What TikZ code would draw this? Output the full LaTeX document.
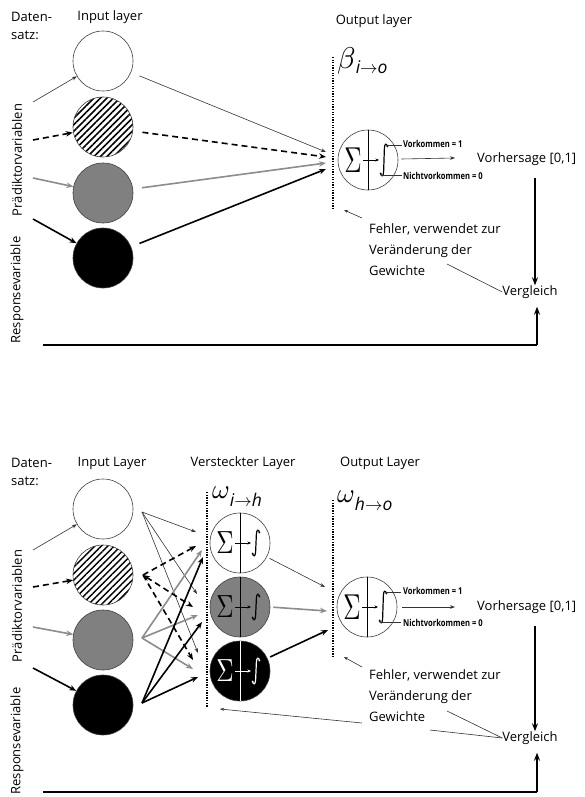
\documentclass[tikz,border=0pt]{standalone}
\usepackage{fontspec}
\setmainfont{Open Sans}
\usepackage{graphicx}
\usetikzlibrary{arrows.meta,patterns.meta,calc}

\tikzset{
  lbl/.style={font=\fontsize{13}{15}\selectfont, inner sep=0},
  tiny/.style={font=\fontsize{9.5}{11}\selectfont\bfseries, inner sep=0, anchor=west},
  neuron/.style={circle, draw=black!75, line width=0.6pt, minimum size=60pt, inner sep=0},
  hatch/.style={pattern={Lines[angle=45,distance=4.6pt,line width=1.5pt]}},
  thinarr/.style={draw=black!80, line width=0.6pt, -{Stealth[length=5pt,width=3.6pt]}},
  thickarr/.style={draw=black, line width=1.6pt, -{Stealth[length=7pt,width=5.5pt]}},
  grayarr/.style={draw=black!45, line width=1.6pt, -{Stealth[length=7pt,width=5.5pt]}},
  dasharr/.style={thickarr, dash pattern=on 6pt off 4pt},
  dotline/.style={line width=2.2pt, dash pattern=on 1.3pt off 1.3pt},
  bigline/.style={line width=2.2pt},
  bigarr/.style={line width=2.2pt, -{Stealth[length=8pt,width=6pt]}},
  note/.style={draw=black!80, line width=0.6pt},
  weight/.style={anchor=base west, inner sep=0},
}

% weight symbol with a large subscript
\newcommand{\wsym}[4]{\scalebox{#1}{$#2$}\raisebox{#4}{\scalebox{1.75}{$#3$}}}

% neuron with summation, activation and the vertical divider
% #1 name, #2 x, #3 y, #4 fill, #5 ink, #6 sigma y-scale, #7 half height of the integral
\newcommand{\cellneuron}[7]{%
  \node[neuron, fill=#4] (#1) at (#2,#3) {};
  \draw[draw=#5, line width=0.6pt] (#1.north) -- (#1.south);
  \node[text=#5, inner sep=0] (#1s) at ($(#1)+(-15,0)$) {\scalebox{2.4}[#6]{$\Sigma$}};
  \coordinate (#1i) at ($(#1)+(16,0)$);
  \coordinate (#1a) at ($(#1i)+(-5,0)$);
  \draw[draw=#5, line width=1.2pt, line cap=round]
    ($(#1i)+(3.4,-#7+2.5)$) .. controls ($(#1i)+(2.8,-#7-0.8)$) and ($(#1i)+(0.6,-#7-0.8)$) .. ($(#1i)+(0.4,-#7+4)$)
    -- ($(#1i)+(-0.4,#7-4)$) .. controls ($(#1i)+(-0.6,#7+0.8)$) and ($(#1i)+(-2.8,#7+0.8)$) .. ($(#1i)+(-3.4,#7-2.5)$);
  \fill[#5] ($(#1i)+(3.4,-#7+2.5)$) circle (0.9pt) ($(#1i)+(-3.4,#7-2.5)$) circle (0.9pt);
  \draw[draw=#5, line width=0.6pt, -{Stealth[length=3.5pt,width=3pt]}, shorten <=1.5pt] (#1s.east) -- (#1a);
}

\begin{document}
\begin{tikzpicture}[x=1pt,y=-1pt]
\useasboundingbox (0,0) rectangle (585,797);
\fill[white] (0,0) rectangle (585,797);

%================ single-layer network ================
\node[lbl, align=left, anchor=west, font=\fontsize{13}{18}\selectfont] (ds1) at (11,26) {Daten-\\satz:};
\node[lbl] (il1) at (110,17) {Input layer};
\node[lbl] (ol1) at (374,21) {Output layer};

\node[lbl, rotate=90] (pv1) at (17,160) {Prädiktorvariablen};
\node[lbl, rotate=90] (rv1) at (17,290) {Responsevariable};

\node[neuron, fill=white] (a1) at (103,61) {};
\node[neuron, fill=white, hatch] (a2) at (103,127) {};
\node[neuron, fill=black!50] (a3) at (103,193) {};
\node[neuron, fill=black] (a4) at (103,258) {};

\coordinate (sa1) at (33,102);
\coordinate (sa2) at (33,140);
\coordinate (sa3) at (33,178);
\coordinate (sa4) at (33,219);
\draw[thinarr] (sa1) -- (a1);
\draw[dasharr] (sa2) -- (a2);
\draw[grayarr] (sa3) -- (a3);
\draw[thickarr] (sa4) -- (a4);

% weights
\coordinate (dt1) at (333,57);
\coordinate (db1) at (333,210);
\draw[dotline] (dt1) -- (db1);
\node[weight] (beta) at (337,69) {\wsym{3.0}{\beta}{\mathit{i}{\to}\mathit{o}}{-5pt}};

\coordinate (ta1) at (326,152);
\coordinate (ta2) at (326,157);
\coordinate (ta3) at (326,163);
\coordinate (ta4) at (326,169);
\draw[thinarr, shorten <=9pt] (a1) -- (ta1);
\draw[dasharr, shorten <=9pt] (a2) -- (ta2);
\draw[grayarr, shorten <=9pt] (a3) -- (ta3);
\draw[thickarr, shorten <=9pt] (a4) -- (ta4);

\cellneuron{o1}{368}{160}{white}{black}{3.6}{16}
\draw[note] ($(o1)+(19,-15)$) -- ($(o1)+(34,-15)$);
\draw[note] ($(o1)+(13,15)$) -- ($(o1)+(34,15)$);
\node[tiny] (vk1) at ($(o1)+(35,-16)$) {\scalebox{0.8}[1]{Vorkommen = 1}};
\node[tiny] (nv1) at ($(o1)+(35,16)$) {\scalebox{0.8}[1]{Nichtvorkommen = 0}};

\node[lbl, anchor=west] (vh1) at (477,159) {Vorhersage [0,1]};
\draw[thinarr] ($(o1.east)+(3,-1)$) -- ($(vh1.west)+(-22,-1)$);

\node[lbl] (vg1) at (530,292) {Vergleich};
\draw[bigarr] (vh1.south -| vg1) ++(5,12) coordinate (vt1) -- (vt1 |- vg1.north) ;

\node[lbl, anchor=north west, align=left, font=\fontsize{13}{21}\selectfont] (fe1) at (369,223) {Fehler, verwendet zur\\Veränderung der\\Gewichte};
\coordinate (fa1) at (362,218);
\coordinate (fb1) at (344,210);
\draw[thinarr, -{Stealth[length=4pt,width=3pt]}] (fa1) -- (fb1);
\coordinate (fl1) at (447,264);
\draw[note] (fl1) -- (vg1.west);

\coordinate (ll1) at (43,345);
\coordinate (lr1) at (537,345);
\draw[bigline] (ll1) -- (lr1);
\draw[bigarr] (lr1) -- ($(vg1.south -| lr1)+(0,8)$);

%================ network with hidden layer ================
\node[lbl, align=left, anchor=west, font=\fontsize{13}{18}\selectfont] (ds2) at (11,472) {Daten-\\satz:};
\node[lbl] (il2) at (112,463) {Input Layer};
\node[lbl] (hl2) at (243,463) {Versteckter Layer};
\node[lbl] (ol2) at (380,463) {Output Layer};

\node[lbl, rotate=90] (pv2) at (17,606) {Prädiktorvariablen};
\node[lbl, rotate=90] (rv2) at (17,741) {Responsevariable};

\node[neuron, fill=white] (b1) at (103,509) {};
\node[neuron, fill=white, hatch] (b2) at (103,575) {};
\node[neuron, fill=black!50] (b3) at (103,640) {};
\node[neuron, fill=black] (b4) at (103,705) {};

\coordinate (sb1) at (33,550);
\coordinate (sb2) at (33,587);
\coordinate (sb3) at (33,627);
\coordinate (sb4) at (33,668);
\draw[thinarr] (sb1) -- (b1);
\draw[dasharr] (sb2) -- (b2);
\draw[grayarr] (sb3) -- (b3);
\draw[thickarr] (sb4) -- (b4);

% hidden neurons
\coordinate (dt2) at (207,492);
\coordinate (db2) at (207,707);
\draw[dotline] (dt2) -- (db2);
\node[weight] (wih) at (212,498) {\wsym{2.7}{\omega}{\mathit{i}{\to}\mathit{h}}{-8pt}};

\cellneuron{h1}{240}{543}{white}{black}{3.2}{13}
\cellneuron{h2}{240}{607}{black!50}{black}{3.2}{13}
\cellneuron{h3}{240}{671}{black}{white}{3.2}{13}

% output ports of the inputs
\coordinate (pb1) at (142,512);
\coordinate (pb2) at (143,575);
\coordinate (pb3) at (142,638);
\coordinate (pb4) at (142,703);

% arrow ends in front of the hidden layer
\coordinate (e11) at (196,532);
\coordinate (e12) at (197,594);
\coordinate (e13) at (198,653);
\coordinate (e21) at (196,546);
\coordinate (e22) at (193,607);
\coordinate (e23) at (193,660);
\coordinate (e31) at (202,550);
\coordinate (e32) at (198,615);
\coordinate (e33) at (193,669);
\coordinate (e41) at (203,557);
\coordinate (e42) at (202,622);
\coordinate (e43) at (198,677);

\draw[thinarr] (pb1) -- (e11);
\draw[thinarr] (pb1) -- (e12);
\draw[thinarr] (pb1) -- (e13);
\draw[grayarr] (pb3) -- (e31);
\draw[grayarr] (pb3) -- (e32);
\draw[grayarr] (pb3) -- (e33);
\draw[dasharr] (pb2) -- (e21);
\draw[dasharr, {Stealth[length=7pt,width=5.5pt]}-{Stealth[length=7pt,width=5.5pt]}] (pb2) -- (e22);
\draw[dasharr] (pb2) -- (e23);
\draw[thickarr] (pb4) -- (e41);
\draw[thickarr] (pb4) -- (e42);
\draw[thickarr] (pb4) -- (e43);

% output neuron
\coordinate (dt3) at (333,500);
\coordinate (db3) at (333,657);
\draw[dotline] (dt3) -- (db3);
\node[weight] (who) at (337,502) {\wsym{2.7}{\omega}{\mathit{h}{\to}\mathit{o}}{-8pt}};

\cellneuron{o2}{367}{607}{white}{black}{3.6}{16}
\draw[note] ($(o2)+(19,-15)$) -- ($(o2)+(34,-15)$);
\draw[note] ($(o2)+(13,15)$) -- ($(o2)+(34,15)$);
\node[tiny] (vk2) at ($(o2)+(36,-16)$) {\scalebox{0.8}[1]{Vorkommen = 1}};
\node[tiny] (nv2) at ($(o2)+(36,16)$) {\scalebox{0.8}[1]{Nichtvorkommen = 0}};

\coordinate (q1) at (325,587);
\coordinate (q2) at (327,611);
\coordinate (q3) at (328,630);
\draw[thinarr, shorten <=3pt] (h1) -- (q1);
\draw[grayarr, shorten <=3pt] (h2.east) -- (q2);
\draw[thickarr, shorten <=3pt] (h3) -- (q3);

\node[lbl, anchor=west] (vh2) at (477,607) {Vorhersage [0,1]};
\draw[thinarr] ($(o2.east)+(5,0)$) -- ($(vh2.west)+(-22,0)$);

\node[lbl] (vg2) at (530,738) {Vergleich};
\draw[bigarr] (vh2.south -| vg2) ++(5,12) coordinate (vt2) -- (vt2 |- vg2.north);

\node[lbl, anchor=north west, align=left, font=\fontsize{13}{21}\selectfont] (fe2) at (369,669) {Fehler, verwendet zur\\Veränderung der\\Gewichte};
\coordinate (fa2) at (362,667);
\coordinate (fb2) at (344,657);
\draw[thinarr, -{Stealth[length=4pt,width=3pt]}] (fa2) -- (fb2);
\coordinate (fc2) at (362,723);
\coordinate (fd2) at (220,709);
\draw[thinarr, -{Stealth[length=4pt,width=3pt]}] (fc2) -- (fd2);
\coordinate (fl2) at (447,711);
\coordinate (fm2) at (430,730);
\draw[note] (fl2) -- (vg2.west);
\draw[note] (fm2) -- (vg2.west);

\coordinate (ll2) at (43,792);
\coordinate (lr2) at (537,792);
\draw[bigline] (ll2) -- (lr2);
\draw[bigarr] (lr2) -- ($(vg2.south -| lr2)+(0,8)$);
\end{tikzpicture}
\end{document}
